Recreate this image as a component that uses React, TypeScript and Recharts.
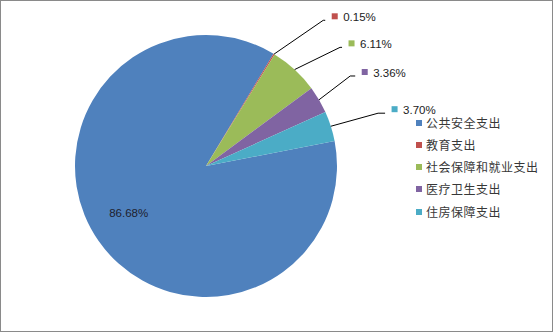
import { PieChart, Pie, Cell, Legend } from "recharts";

const categories = ["公共安全支出", "教育支出", "社会保障和就业支出", "医疗卫生支出", "住房保障支出"];
const shares = [86.68, 0.15, 6.11, 3.36, 3.7];
const COLORS = ["#4F81BD", "#C0504D", "#9BBB59", "#8064A2", "#4BACC6"];

// label layout: first slice is labelled inside, the rest get leader lines
// (radius of elbow, angle nudge, horizontal run)
const INSIDE = { r: 0.69, shift: -3.8 };
const LEADERS = [
  null,
  { r: 187, shift: -7.5, run: 2 },
  { r: 179, shift: -5.9, run: 2 },
  { r: 170, shift: 1.6, run: 5 },
  { r: 180, shift: -0.6, run: 7 },
];

const data = categories.map((name, i) => ({ name, value: shares[i] }));

const RAD = Math.PI / 180;
const LABEL_FONT = "'Liberation Sans', Arial, sans-serif";

function renderLabel(props: any) {
  const { cx, cy, midAngle, outerRadius, index, value } = props;
  const text = `${Number(value).toFixed(2)}%`;
  if (index === 0) {
    const r = outerRadius * INSIDE.r;
    const a = midAngle + INSIDE.shift;
    const x = cx + r * Math.cos(-a * RAD);
    const y = cy + r * Math.sin(-a * RAD);
    return (
      <text x={x} y={y} textAnchor="middle" dominantBaseline="central" fontSize={11.5} fontFamily={LABEL_FONT} fill="#1e1e2e">
        {text}
      </text>
    );
  }
  const lead = LEADERS[index]!;
  const sx = cx + outerRadius * Math.cos(-midAngle * RAD);
  const sy = cy + outerRadius * Math.sin(-midAngle * RAD);
  const a = midAngle + lead.shift;
  const ex = cx + lead.r * Math.cos(-a * RAD);
  const ey = cy + lead.r * Math.sin(-a * RAD);
  const hx = ex + lead.run;
  return (
    <g>
      <polyline points={`${sx},${sy} ${ex},${ey} ${hx},${ey}`} stroke="#000" strokeWidth={1} fill="none" />
      <rect x={hx + 6.5} y={ey - 7} width={6} height={6} fill={COLORS[index]} />
      <text x={hx + 18} y={ey - 3} dominantBaseline="central" fontSize={11.5} fontFamily={LABEL_FONT} fill="#222">
        {text}
      </text>
    </g>
  );
}

function renderLegend() {
  return (
    <div style={{ fontFamily: "'Noto Sans CJK SC', sans-serif", fontSize: 12, letterSpacing: 0.5, color: "#383838" }}>
      {categories.map((name, i) => (
        <div key={name} style={{ height: 22.25, lineHeight: "22.25px", whiteSpace: "nowrap", display: "flex", alignItems: "center" }}>
          <span style={{ display: "inline-block", width: 6, height: 6, background: COLORS[i], marginRight: 4 }} />
          <span>{name}</span>
        </div>
      ))}
    </div>
  );
}

export default function App() {
  return (
    <div style={{ position: "relative", width: 554, height: 333, background: "#fff" }}>
      <style>{`body{margin:0}`}</style>
      <PieChart
        width={554}
        height={333}
        margin={{ top: 0, right: 0, bottom: 0, left: 0 }}
        style={{ position: "absolute", left: 0, top: 0 }}
      >
        <Pie
          data={data}
          dataKey="value"
          nameKey="name"
          cx={206}
          cy={166}
          outerRadius={131}
          startAngle={11}
          endAngle={-349}
          stroke="none"
          label={renderLabel}
          labelLine={false}
          isAnimationActive={false}
        >
          {data.map((_, i) => (
            <Cell key={i} fill={COLORS[i]} />
          ))}
        </Pie>
        <Legend content={renderLegend} wrapperStyle={{ left: 416, top: 111.5, width: 138, bottom: "auto", right: "auto" }} />
      </PieChart>
      <div
        style={{
          position: "absolute",
          left: 0,
          top: 0,
          width: 553,
          height: 332,
          boxSizing: "border-box",
          border: "1px solid #8a8a8a",
          pointerEvents: "none",
        }}
      />
    </div>
  );
}
